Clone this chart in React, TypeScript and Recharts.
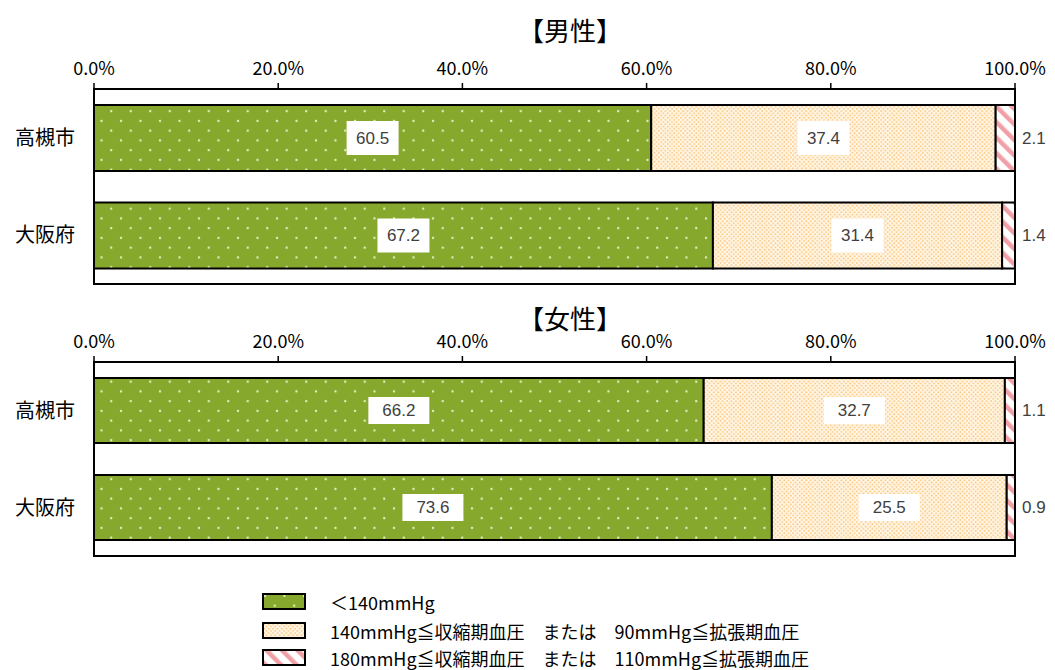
import React from 'react';
import { BarChart, Bar, XAxis, YAxis, ReferenceArea, LabelList } from 'recharts';

const categories = ['高槻市', '大阪府'];
const maleNormal = [60.5, 67.2];
const maleMid = [37.4, 31.4];
const maleHigh = [2.1, 1.4];
const femaleNormal = [66.2, 73.6];
const femaleMid = [32.7, 25.5];
const femaleHigh = [1.1, 0.9];
const xTicks = [0, 20, 40, 60, 80, 100];
const seriesNames = [
  '＜140mmHg',
  '140mmHg≦収縮期血圧　または　90mmHg≦拡張期血圧',
  '180mmHg≦収縮期血圧　または　110mmHg≦拡張期血圧',
];
const titles = ['【男性】', '【女性】'];

const maleData = categories.map((name, i) => ({ name, normal: maleNormal[i], mid: maleMid[i], high: maleHigh[i] }));
const femaleData = categories.map((name, i) => ({ name, normal: femaleNormal[i], mid: femaleMid[i], high: femaleHigh[i] }));

const GOTHIC = "'Noto Sans CJK JP', sans-serif";
const NARROW = "'Liberation Sans Narrow', 'Noto Sans CJK JP', sans-serif";
const ARIAL = "'Liberation Sans', Arial, sans-serif";

const makeInside = (boxW: number, boxH: number) => (props: any) => {
  const x = Number(props.x), y = Number(props.y), w = Number(props.width), h = Number(props.height);
  const cx = x + w / 2;
  const cy = y + h / 2;
  return (
    <g>
      <rect x={cx - boxW / 2} y={cy - boxH / 2} width={boxW} height={boxH} fill="#fff" />
      <text x={cx} y={cy} textAnchor="middle" dominantBaseline="central" fontSize={17} fill="#404040" fontFamily={ARIAL}>
        {Number(props.value).toFixed(1)}
      </text>
    </g>
  );
};

const OutsideLabel = (props: any) => {
  const x = Number(props.x), y = Number(props.y), w = Number(props.width), h = Number(props.height);
  return (
    <text x={x + w + 7} y={y + h / 2} textAnchor="start" dominantBaseline="central" fontSize={17} fill="#404040" fontFamily={ARIAL}>
      {Number(props.value).toFixed(1)}
    </text>
  );
};

function Panel({ data, top, height, marginTop, marginBottom, barSize, boxW, boxH }: any) {
  const inside = makeInside(boxW, boxH);
  return (
    <div style={{ position: 'absolute', left: 0, top }}>
      <BarChart
        width={1055}
        height={height}
        data={data}
        layout="vertical"
        margin={{ top: marginTop, right: 40, bottom: marginBottom, left: 0 }}
        barSize={barSize}
      >
        <XAxis
          type="number"
          orientation="top"
          domain={[0, 100]}
          ticks={xTicks}
          height={20}
          tickFormatter={(v: number) => `${v.toFixed(1)}%`}
          axisLine={{ stroke: '#000', strokeWidth: 2 }}
          tickLine={{ stroke: '#000', strokeWidth: 1.5 }}
          tickSize={6}
          tickMargin={8}
          tick={{ fontSize: 18, fill: '#000', fontFamily: NARROW }}
          interval={0}
          allowDataOverflow
        />
        <YAxis
          type="category"
          dataKey="name"
          width={94}
          axisLine={{ stroke: '#000', strokeWidth: 2 }}
          tickLine={false}
          tickSize={0}
          tickMargin={19}
          tick={{ fontSize: 20, fill: '#000', fontFamily: GOTHIC }}
        />
        <Bar dataKey="normal" stackId="a" fill="url(#patGreen)" stroke="#000" strokeWidth={2} isAnimationActive={false}>
          <LabelList dataKey="normal" content={inside} />
        </Bar>
        <Bar dataKey="mid" stackId="a" fill="url(#patOrange)" stroke="#000" strokeWidth={2} isAnimationActive={false}>
          <LabelList dataKey="mid" content={inside} />
        </Bar>
        <Bar dataKey="high" stackId="a" fill="url(#patStripe)" stroke="#000" strokeWidth={2} isAnimationActive={false}>
          <LabelList dataKey="high" content={OutsideLabel} />
        </Bar>
        <ReferenceArea x1={0} x2={100} fill="none" fillOpacity={0} stroke="#000" strokeWidth={2} ifOverflow="visible" />
      </BarChart>
    </div>
  );
}

function Patterns() {
  return (
    <svg width={0} height={0} style={{ position: 'absolute', left: 0, top: 0 }}>
      <defs>
        <pattern id="patGreen" patternUnits="userSpaceOnUse" width={19.5} height={19.5}>
          <rect width={19.5} height={19.5} fill="#86A82C" />
          <circle cx={4} cy={4} r={1.2} fill="#E4EEC4" />
          <circle cx={13.75} cy={13.75} r={1.2} fill="#E4EEC4" />
        </pattern>
        <pattern id="patOrange" patternUnits="userSpaceOnUse" width={4.4} height={4.4}>
          <rect width={4.4} height={4.4} fill="#FFF6E8" />
          <circle cx={1.1} cy={1.1} r={0.95} fill="#FCC677" />
          <circle cx={3.3} cy={3.3} r={0.95} fill="#FCC677" />
        </pattern>
        <pattern id="patStripe" patternUnits="userSpaceOnUse" width={11} height={11} patternTransform="rotate(-45)">
          <rect width={11} height={11} fill="#fff" />
          <rect x={0} y={0} width={4.5} height={11} fill="#F0A0A6" />
        </pattern>
      </defs>
    </svg>
  );
}

const legendFills = ['url(#patGreen)', 'url(#patOrange)', 'url(#patStripe)'];
const legendRows = [602, 631, 658];

export default function App() {
  return (
    <div style={{ position: 'absolute', left: 0, top: 0, width: 1055, height: 670, background: '#fff', overflow: 'hidden' }}>
      <Patterns />
      <div style={{ position: 'absolute', left: 470, top: 13, width: 200, textAlign: 'center', fontFamily: GOTHIC, fontSize: 26, lineHeight: '34px', color: '#000' }}>
        {titles[0]}
      </div>
      <Panel data={maleData} top={0} height={290} marginTop={69} marginBottom={6} barSize={66} boxW={52} boxH={34} />
      <Panel data={femaleData} top={290} height={270} marginTop={52} marginBottom={4} barSize={65} boxW={61} boxH={27} />
      <div style={{ position: 'absolute', left: 470, top: 301, width: 200, textAlign: 'center', fontFamily: GOTHIC, fontSize: 26, lineHeight: '34px', color: '#000' }}>
        {titles[1]}
      </div>
      {seriesNames.map((name, i) => (
        <React.Fragment key={name}>
          <svg width={46} height={20} style={{ position: 'absolute', left: 261, top: legendRows[i] - 10 }}>
            <rect x={2} y={2} width={42} height={15} fill={legendFills[i]} stroke="#000" strokeWidth={2} />
          </svg>
          <div style={{ position: 'absolute', left: 330, top: legendRows[i] - 12, height: 24, lineHeight: '24px', fontFamily: NARROW, fontSize: 18, color: '#000', whiteSpace: 'nowrap' }}>
            {name}
          </div>
        </React.Fragment>
      ))}
    </div>
  );
}
